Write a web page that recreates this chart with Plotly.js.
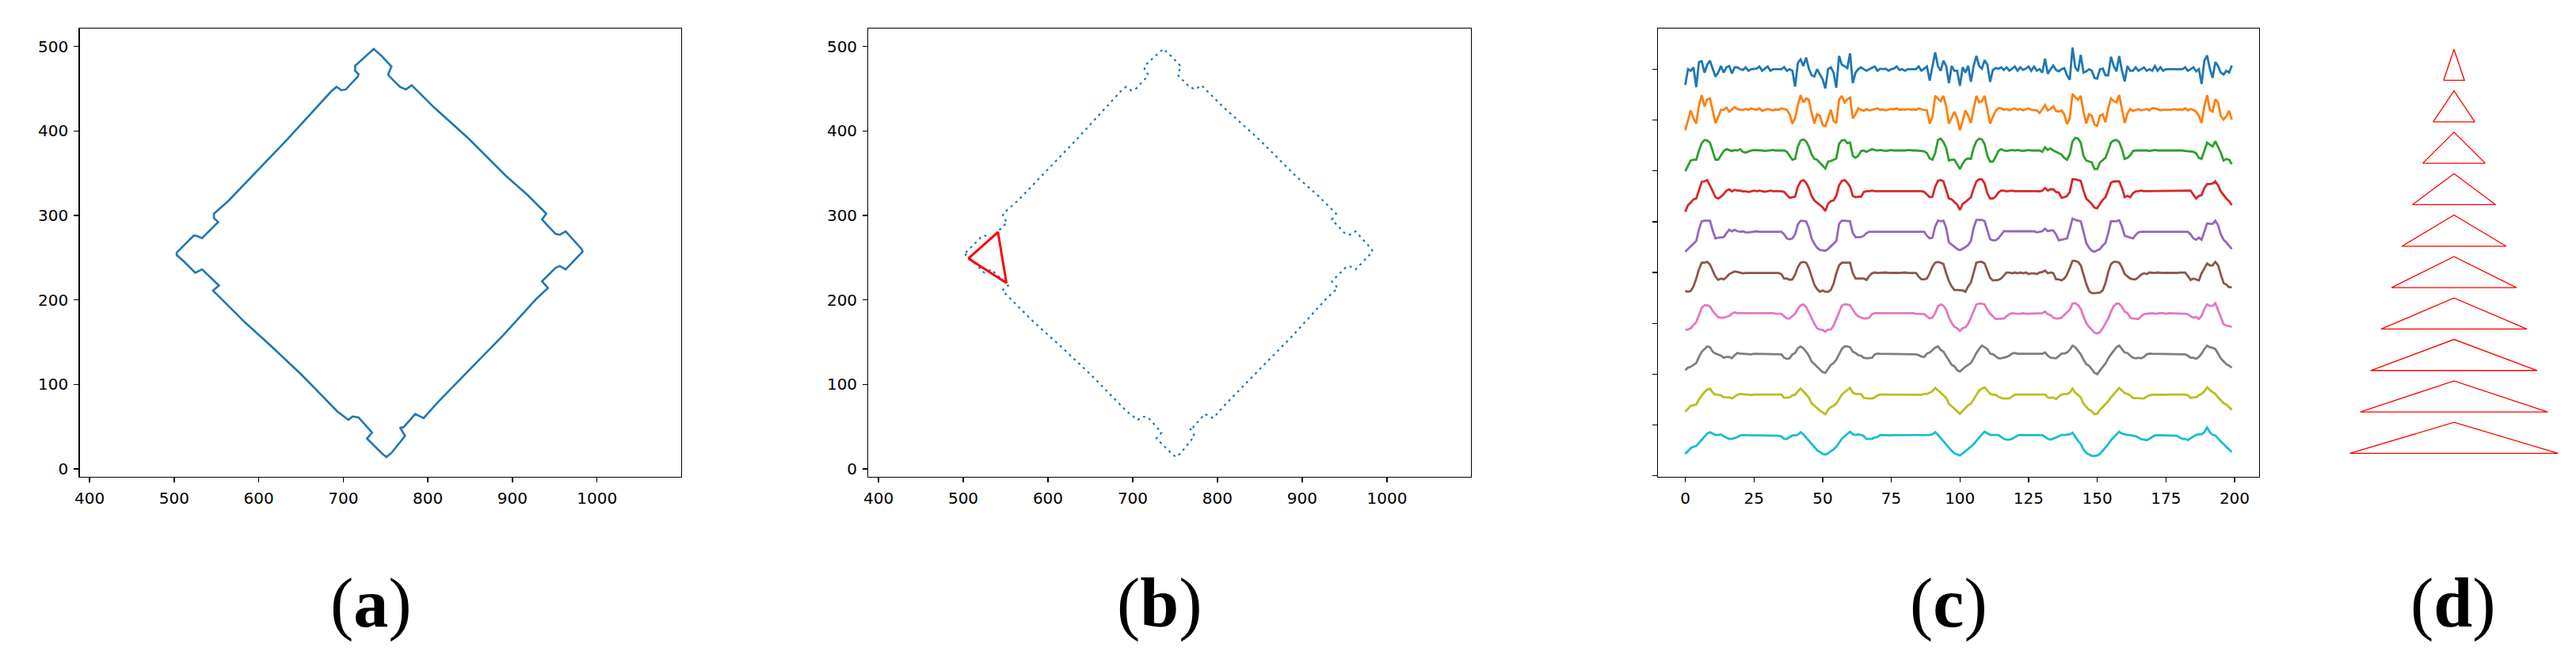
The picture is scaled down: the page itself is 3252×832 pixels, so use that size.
<!DOCTYPE html>
<html>
<head>
<meta charset="utf-8">
<script src="https://cdn.plot.ly/plotly-3.0.1.min.js"></script>
<style>
  html, body { margin: 0; padding: 0; background: #fff; }
  #chart { width: 3252px; height: 832px; }
</style>
</head>
<body>
<div id="chart"></div>
<script>
// contour of the segmented object, panels (a) and (b)
const contourX = [503, 523, 526, 533, 548, 552, 547, 547, 564, 592, 633, 686, 692, 698, 703, 717, 718, 714, 714, 736,
  746, 757, 753, 754, 767, 774, 781, 807, 848, 892, 918, 940, 935, 951, 956, 963, 982, 983, 963, 956,
  951, 935, 942, 929, 889, 848, 810, 795, 785, 779, 771, 767, 773, 757, 751, 746, 728, 734, 718, 711,
  706, 693, 651, 614, 583, 546, 553, 533, 525, 511, 503, 503];
const contourY = [256, 276, 276, 273, 288, 292, 297, 302, 317, 346, 389, 447, 452, 448, 449, 464, 467, 471, 477, 497,
  488, 476, 467, 465, 452, 449, 454, 428, 391, 347, 324, 302, 295, 278, 277, 281, 260, 257, 236, 240,
  238, 222, 214, 202, 158, 116, 77, 60, 65, 58, 49, 49, 39, 19, 14, 18, 36, 43, 61, 62,
  58, 68, 111, 146, 174, 211, 217, 236, 232, 246, 253, 256];

// selected triangle in panel (b)
const triX = [506, 541, 551, 506];
const triY = [249, 280, 220, 249];

// panel (c): ten filtered signals, readings relative to each baseline (77 = one signal unit)
const signalNames = ["s1", "s2", "s3", "s4", "s5", "s6", "s7", "s8", "s9", "s10"];
const s1 = [-60, 0, -6, 7, -68, 27, 30, -13, 17, 32, 2, -28, -13, 12, -13, 7, 12, -16, 7, 7,
  0, -3, 7, -6, 0, 0, 2, 10, -6, 2, 10, -6, 0, 0, 0, 0, 8, -6, 0, -6,
  -66, 24, 37, 12, 44, 2, -23, -28, 0, -18, -38, -73, 0, 7, -13, -70, 50, 17, 12, 4,
  60, -53, -13, 0, 7, 0, -6, 0, 4, 10, -6, 2, 0, 2, -6, 0, 2, 10, -3, 0,
  -6, 0, 0, 0, 0, 10, -6, 2, 10, -43, 12, 64, 12, -6, 32, 12, -53, 12, -6, -6,
  -63, 7, -13, 12, -48, 12, 50, 12, 2, 34, 17, -48, -3, 4, 2, 7, -3, 7, -6, 2,
  10, -6, 7, -3, 2, 10, -6, 10, -6, 0, -13, 40, -18, 0, 14, -3, -8, 0, 4, -23,
  -40, 82, 7, -8, 54, -13, -8, 0, -6, -33, -36, 0, 2, -23, -23, 47, 12, -8, 50, -6,
  -46, 12, -6, -6, 7, -6, 0, 7, -6, 0, -6, 12, -6, 7, -6, 0, 0, 0, 0, 0,
  0, 0, 7, -6, 0, 7, -8, 0, -56, 32, 52, 2, -33, 27, 12, -13, -20, -6, -13, 14];
const s2 = [-77, -42, -2, -32, -52, 18, 56, 13, 40, 43, -7, -50, -27, 0, 0, 8, -7, 3, 10, 3,
  0, 0, 3, 0, 6, 2, 0, 6, -4, 0, 3, 0, -2, 2, 0, 6, 2, 0, -17, -52,
  -32, 18, 56, 28, 43, 38, -12, -52, -17, -22, -57, -62, -32, 0, -42, -50, 38, 53, 28, 40,
  46, -32, -17, 6, 0, -4, 3, -2, 0, 3, 6, 0, 2, -2, 0, 3, 2, 6, 0, 2,
  0, 3, 0, 2, 0, 6, 2, 0, -2, -52, -27, 53, 43, 33, 53, 13, -52, -27, -7, -32,
  -77, -42, -2, -22, -50, 3, 53, 28, 33, 53, 3, -52, -27, -4, 6, 6, 0, 3, -2, 3,
  6, 0, 3, -2, 3, 6, 0, 0, -2, -12, 3, 18, -2, 3, 13, -4, -7, -2, -17, -54,
  -32, 60, 48, 38, 53, -7, -52, -17, -22, -57, -60, -22, -17, -47, 6, 43, 33, 28, 56, 8,
  -50, -14, 3, -4, 0, 3, -2, 0, 3, -2, 6, 6, 3, -2, 0, 0, 2, 0, 3, 0,
  2, 0, 6, -2, 3, 0, -7, -22, -50, 13, 56, 0, -7, 40, 28, -24, -37, -24, -4, -37];
const s3 = [-78, -58, -38, -35, -35, 0, 28, 40, 38, 30, 0, -35, -35, -18, -2, 5, 2, -2, 2, 0,
  5, -5, -8, -3, 0, 2, 2, 0, 0, -2, 0, 0, 2, 0, 0, 2, 0, -5, -20, -35,
  -32, 15, 38, 42, 35, 15, -15, -32, -35, -45, -55, -68, -42, -40, -35, -30, 25, 38, 40, 28,
  30, -20, -28, -20, -2, 0, -5, 0, 5, 2, 0, 2, 0, -2, 0, 2, 0, 0, -2, 0,
  0, 2, 0, 0, 0, 0, -2, -3, -10, -30, -35, -10, 40, 45, 32, 10, -38, -35, -35, -52,
  -70, -50, -35, -30, -32, 10, 35, 45, 42, 25, -20, -42, -42, -25, -2, 5, 0, -2, 0, 2,
  0, 2, 0, -2, 0, 2, 0, 0, 2, 0, -5, 12, 2, 8, 0, -5, -8, -15, -28, -35,
  -15, 35, 48, 45, 30, -20, -38, -42, -45, -70, -70, -45, -35, -28, 0, 30, 38, 40, 32, 5,
  -32, -28, -18, -2, 0, 0, 2, 0, 0, -2, 0, 2, 0, 0, 2, 0, 0, 0, 2, 2,
  0, 0, -2, -3, -5, -5, -10, -28, -32, 2, 30, 22, 15, 35, 15, -8, -38, -32, -35, -52];
const s4 = [-78, -53, -43, -31, -28, 2, 35, 37, 42, 22, -3, -23, -28, -21, -11, 2, 7, -1, 5, 2,
  2, -1, -1, -3, -1, 2, 0, 2, 0, -2, 0, 2, 0, 0, 2, 0, -3, -13, -25, -23,
  -21, 17, 37, 42, 32, 12, -18, -35, -43, -51, -61, -75, -48, -38, -35, -18, 22, 39, 42, 32,
  17, -18, -23, -21, -21, -3, 0, 0, 2, 0, 0, 2, 0, 0, 0, 2, 0, 0, 0, 0,
  2, 0, 0, 0, 2, 0, 0, -3, -13, -23, -21, 17, 39, 42, 37, 7, -28, -31, -41, -51,
  -71, -48, -41, -31, -23, 9, 37, 45, 45, 29, -8, -28, -28, -21, -5, 2, 2, -1, 0, 2,
  0, 0, 2, 0, 0, 2, 0, 0, 0, -1, 2, 12, 2, 7, 7, -3, -5, -25, -23, -18,
  -3, 45, 45, 42, 39, 2, -28, -38, -48, -63, -65, -48, -33, -23, 2, 32, 37, 37, 37, 12,
  -23, -18, -23, -8, -1, 0, 2, 0, 0, 0, 2, 0, 0, 0, 2, 0, 0, 0, 0, 2,
  2, 2, 0, 0, 2, -13, -28, -18, -15, 12, 27, 27, 29, 37, 22, -1, -15, -28, -38, -53];
const s5 = [-75, -65, -55, -48, -35, 10, 40, 42, 42, 42, 5, -25, -22, -22, -20, -5, 8, 2, 8, 2,
  0, 2, -2, -2, 0, 0, 2, 0, 0, 0, 0, 0, 2, 0, 0, 0, -10, -25, -28, -25,
  -10, 28, 42, 42, 40, 15, -25, -45, -60, -68, -70, -72, -65, -55, -45, -35, 30, 42, 42, 40,
  40, -5, -20, -20, -20, -15, -5, 0, 0, 0, 2, 0, 0, 0, 0, 0, 0, 0, 0, 0,
  2, 0, 0, 0, 0, 0, 0, 0, -15, -25, -22, 20, 42, 40, 42, 15, -40, -48, -58, -65,
  -70, -65, -58, -50, -35, 15, 45, 45, 45, 40, 5, -28, -32, -32, -25, -10, 2, 2, 2, 2,
  2, 2, 2, 2, 2, 2, 2, 2, -2, 0, 2, 12, 2, 5, 5, -10, -32, -30, -28, -25,
  10, 50, 45, 42, 40, 0, -42, -60, -72, -75, -70, -65, -52, -42, -5, 40, 40, 40, 44, 20,
  -15, -18, -22, -25, -12, -2, 0, 0, 2, 2, 2, 0, 0, 0, 2, 2, 2, 0, 0, 0,
  0, 2, 2, 0, -10, -25, -30, -22, -30, 2, 32, 30, 30, 42, 25, -10, -30, -40, -52, -65];
const s6 = [-70, -73, -70, -53, -23, 12, 37, 37, 40, 30, 7, -16, -28, -23, -26, -18, -6, 0, 4, 2,
  0, -3, -2, -2, -2, -2, 0, -2, -2, 0, -2, -2, -2, -2, -2, -6, -23, -23, -28, -26,
  -8, 20, 37, 40, 37, 17, -18, -46, -63, -73, -68, -73, -73, -66, -43, -3, 27, 37, 37, 37,
  37, -3, -23, -23, -23, -23, -28, -13, -3, 0, -2, -1, -2, 0, -2, -1, -2, -1, -2, -1,
  0, -2, -2, -2, -2, -16, -26, -26, -23, -3, 22, 37, 40, 37, 32, -3, -33, -53, -66, -66,
  -68, -68, -73, -53, -38, -3, 37, 40, 40, 34, 7, -20, -30, -28, -28, -23, -13, 0, 0, -3,
  0, -3, 0, -3, 0, -6, -3, -3, -6, 0, 2, 7, -3, 0, -3, -26, -26, -30, -23, -8,
  17, 44, 44, 40, 27, -8, -43, -70, -78, -78, -78, -76, -68, -40, 2, 32, 40, 40, 37, 20,
  -6, -16, -23, -26, -26, -18, -8, -3, -6, 0, -2, -2, 0, -2, -2, -1, -2, -2, -1, -2,
  0, 0, 0, -13, -28, -23, -26, -30, -3, 17, 34, 27, 27, 40, 27, -8, -40, -46, -56, -56];
const s7 = [-62, -62, -57, -44, -34, -7, 20, 30, 30, 26, 8, -4, -15, -17, -17, -14, -10, -2, 3, 0,
  0, 0, 2, 0, 0, 0, 2, 0, 0, 0, 2, 0, 0, -2, -2, -2, -12, -20, -20, -12,
  -2, 16, 30, 33, 23, 3, -20, -40, -57, -62, -64, -70, -62, -62, -47, -22, 6, 28, 33, 33,
  30, 13, -2, -12, -17, -20, -20, -17, -4, 0, 0, 0, 0, 2, 0, 0, 0, 0, 0, 0,
  2, 0, 0, 0, -2, -2, -2, -4, -12, -20, -17, 0, 26, 33, 28, 13, -17, -37, -52, -57,
  -67, -57, -54, -40, -17, 10, 33, 36, 36, 33, 13, -2, -12, -22, -22, -20, -20, -12, -4, 0,
  -2, -2, -2, 0, -2, -2, -2, 0, -2, -2, 0, 6, -4, -7, -17, -20, -20, -17, -7, 0,
  13, 36, 38, 30, 16, -12, -37, -52, -64, -74, -77, -72, -57, -40, -20, 6, 26, 36, 36, 23,
  6, 0, -17, -20, -20, -22, -12, -4, -2, 0, 0, -2, 0, 0, 0, -2, 0, 0, 0, 0,
  -2, 0, -2, -4, -12, -17, -14, -22, -10, 16, 33, 28, 28, 38, 13, -17, -42, -47, -50, -52];
const s8 = [-62, -52, -49, -42, -35, -12, 8, 18, 28, 25, 8, 1, -2, -7, -15, -12, -12, -17, -5, 3,
  1, 0, 0, 0, -2, 0, 0, 0, -2, 0, 0, 0, 0, -2, 0, -2, -15, -19, -17, -2,
  3, 21, 28, 21, 8, -7, -29, -39, -49, -59, -69, -72, -57, -42, -35, -22, -2, 18, 28, 28,
  25, 8, 3, -5, -7, -15, -17, -15, -15, -2, 1, 0, 0, -2, 0, 0, 0, 0, -2, 0,
  0, 0, 0, -2, -2, -5, -10, -12, 1, 5, 15, 23, 28, 15, 8, -9, -29, -42, -47, -62,
  -67, -57, -49, -42, -35, -17, 3, 18, 31, 25, 18, 1, -2, -9, -17, -17, -15, -12, -7, 1,
  3, 0, 0, 0, -2, 0, 0, 0, -2, 0, 0, 5, -7, -15, -15, -17, -9, 1, 1, 5,
  15, 31, 25, 11, -2, -22, -39, -45, -57, -72, -77, -62, -49, -37, -17, -2, 13, 25, 31, 18,
  5, 3, -5, -15, -17, -15, -17, -12, -2, 1, 0, 0, 0, -2, 0, 0, 0, -2, 0, 0,
  0, -2, -2, -7, -15, -15, -19, -12, 1, 18, 31, 25, 23, 18, 1, -17, -29, -39, -45, -52];
const s9 = [-65, -53, -43, -41, -38, -18, -3, 9, 19, 22, 7, -1, -1, -3, -11, -11, -11, -15, -8, -1,
  2, 0, 0, 0, -2, 0, 0, 0, 0, 0, -2, 0, 0, 0, 0, 0, -13, -13, -11, -3,
  -1, 12, 22, 12, 2, -11, -33, -43, -53, -61, -68, -75, -58, -48, -43, -35, -18, -1, 9, 17,
  25, 7, 2, 2, 2, -13, -15, -15, -15, -11, -3, 0, 0, 0, 0, -2, 0, 0, 0, 0,
  0, 0, 0, 0, -2, -1, -1, 2, 2, 7, 12, 25, 17, 7, -3, -13, -35, -45, -53, -63,
  -73, -61, -51, -41, -35, -18, 2, 15, 22, 27, 15, 2, -1, -1, -8, -13, -15, -15, -15, -8,
  -1, 0, 0, 0, 0, 0, -2, 0, 0, 0, 0, 0, -11, -13, -11, -18, -8, -1, 2, 2,
  7, 22, 7, -3, -11, -35, -48, -58, -63, -75, -73, -58, -48, -38, -25, -11, 2, 12, 25, 15,
  5, 2, -3, -13, -13, -15, -15, -15, -8, -3, -1, 0, 0, 0, -1, 0, 0, 0, 0, -1,
  0, 0, 0, -3, -13, -11, -11, -3, 2, 12, 27, 17, 9, 2, -11, -23, -33, -38, -48, -58];
const s10 = [-71, -59, -49, -44, -41, -29, -17, -4, 6, 11, 6, 1, 1, 3, -4, -9, -14, -14, -11, -7,
  -1, 1, 0, 0, -1, 0, 0, 0, 0, -2, 0, 0, 0, 0, -2, -5, -14, -14, -7, -1,
  -1, 1, 11, 3, -9, -21, -34, -47, -57, -64, -71, -74, -69, -61, -54, -44, -29, -14, -4, 6,
  13, 3, 1, 3, 1, -4, -14, -14, -14, -9, -7, 1, 0, 0, 0, -1, 0, 0, 0, 0,
  0, 0, 0, 0, 0, 0, 0, 1, 1, 1, 3, 11, 1, -11, -24, -37, -49, -59, -69, -74,
  -77, -69, -61, -51, -44, -34, -21, -9, 3, 13, 6, 1, 1, 1, 1, -7, -14, -17, -17, -14,
  -7, -1, 1, 0, 0, 0, 0, 0, 0, 0, 0, -7, -14, -17, -14, -9, -4, 1, 1, 1,
  3, 9, -7, -21, -34, -54, -67, -74, -79, -79, -77, -71, -59, -47, -34, -19, -7, 3, 13, 6,
  3, 1, -1, -4, -4, -9, -15, -17, -19, -14, -7, -1, 0, 0, 0, 0, 0, 0, 0, -2,
  -9, -14, -14, -19, -11, -4, 1, 3, 3, 11, 29, 11, 1, -1, -14, -24, -34, -44, -54, -64];
const signals = [s1, s2, s3, s4, s5, s6, s7, s8, s9, s10];

// panel (d): growing triangles
const triScales = [1, 2, 3, 4, 5, 6, 7, 8, 9, 10];
const triHeight = 0.75;

const tab10 = ["#1f77b4", "#ff7f0e", "#2ca02c", "#d62728", "#9467bd",
  "#8c564b", "#e377c2", "#7f7f7f", "#bcbd22", "#17becf"];

const W = 3252, H = 832;
const px = (a, b) => [a / W, b / W];
const yDom = [1 - 602 / H, 1 - 36 / H];

const traces = [];

traces.push({
  x: contourX, y: contourY, xaxis: "x", yaxis: "y",
  type: "scatter", mode: "lines",
  line: { color: tab10[0], width: 2.6 },
  hoverinfo: "skip",
});

traces.push({
  x: contourX, y: contourY, xaxis: "x2", yaxis: "y2",
  type: "scatter", mode: "lines",
  line: { color: tab10[0], width: 2.2, dash: "3px,5px" },
  hoverinfo: "skip",
});
traces.push({
  x: triX, y: triY, xaxis: "x2", yaxis: "y2",
  type: "scatter", mode: "lines",
  line: { color: "#ff0000", width: 3 },
  hoverinfo: "skip",
});

// stacked signals, 2 units apart
const signalUnit = 77;
signals.forEach((vals, i) => {
  traces.push({
    x: vals.map((_, j) => j),
    y: vals.map((v) => v / signalUnit - 2 * i),
    xaxis: "x3", yaxis: "y3",
    type: "scatter", mode: "lines",
    name: signalNames[i],
    line: { color: tab10[i], width: 2.8 },
    hoverinfo: "skip",
  });
});

// triangles, one closed outline each
const tx = [], ty = [];
triScales.forEach((k) => {
  tx.push(-k, 0, k, -k, null);
  ty.push(-k - triHeight, -k, -k - triHeight, -k - triHeight, null);
});
traces.push({
  x: tx, y: ty, xaxis: "x4", yaxis: "y4",
  type: "scatter", mode: "lines",
  line: { color: "#ff0000", width: 1.3 },
  hoverinfo: "skip",
});

const tickFont = { family: "DejaVu Sans", size: 20, color: "#000" };
const boxAxis = {
  showline: true, mirror: true, linecolor: "#000", linewidth: 1.3,
  ticks: "outside", ticklen: 6, tickwidth: 1.3, tickcolor: "#000",
  showgrid: false, zeroline: false, tickfont: tickFont,
  ticklabelstandoff: 3, fixedrange: true,
};

const labelFont = { family: "Liberation Serif", size: 88, color: "#000" };
const panelLabel = (txt, xpx) => ({
  text: "(<b>" + txt + "</b>)",
  xref: "paper", yref: "paper",
  x: xpx / W, y: 1 - 761 / H,
  xanchor: "center", yanchor: "middle",
  showarrow: false, font: labelFont,
});

const layout = {
  width: W, height: H,
  margin: { l: 0, r: 0, t: 0, b: 0 },
  paper_bgcolor: "#fff",
  plot_bgcolor: "#fff",
  showlegend: false,
  xaxis: { ...boxAxis, domain: px(100.5, 860), range: [388.2, 1099.6], dtick: 100, anchor: "y" },
  yaxis: { ...boxAxis, domain: yDom, range: [-9.4, 521.1], dtick: 100, anchor: "x" },
  xaxis2: { ...boxAxis, domain: px(1096.4, 1856.5), range: [388.2, 1098.7], dtick: 100, anchor: "y2" },
  yaxis2: { ...boxAxis, domain: yDom, range: [-9.4, 521.1], dtick: 100, anchor: "x2" },
  xaxis3: { ...boxAxis, domain: px(2093, 2852), range: [-9.95, 208.95], dtick: 25, tick0: 0, anchor: "y3" },
  yaxis3: { ...boxAxis, domain: yDom, range: [-20.05, 2.0], dtick: 2.5, tick0: 0, showticklabels: false, anchor: "x3" },
  xaxis4: { domain: px(2960, 3236), range: [-10.5, 10.5], visible: false, fixedrange: true, anchor: "y4" },
  yaxis4: { domain: yDom, range: [-11.315, -0.499], visible: false, fixedrange: true, anchor: "x4" },
  annotations: [
    panelLabel("a", 468),
    panelLabel("b", 1464),
    panelLabel("c", 2460),
    panelLabel("d", 3097),
  ],
};

Plotly.newPlot("chart", traces, layout, { displayModeBar: false, staticPlot: true });
</script>
</body>
</html>
